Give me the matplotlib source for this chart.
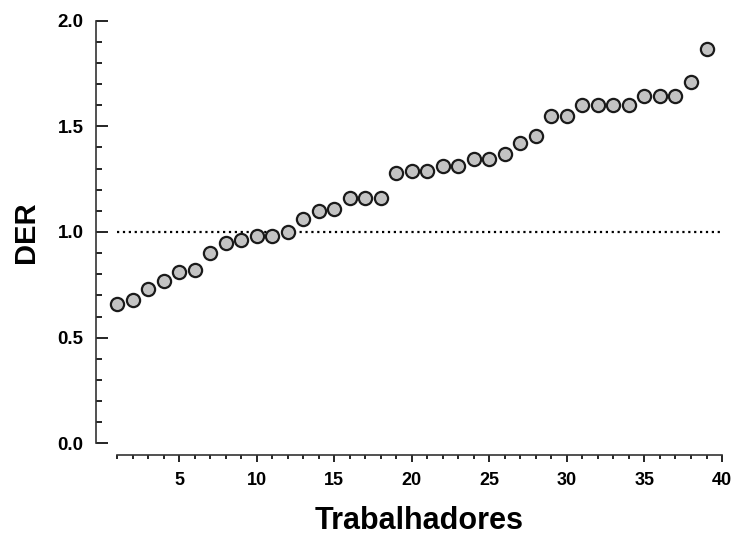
import matplotlib.pyplot as plt
from matplotlib.ticker import MultipleLocator

plt.rcParams['font.family'] = ['Liberation Sans', 'DejaVu Sans']

# trabalhadores (ordenados) e respectivos valores de DER
trabalhadores = list(range(1, 40))
der = [0.66, 0.68, 0.73, 0.77, 0.81, 0.82, 0.90, 0.95, 0.96, 0.98,
       0.98, 1.00, 1.06, 1.10, 1.11, 1.16, 1.16, 1.16, 1.28, 1.29,
       1.29, 1.31, 1.31, 1.345, 1.345, 1.37, 1.42, 1.455, 1.55, 1.55,
       1.60, 1.60, 1.60, 1.60, 1.645, 1.645, 1.645, 1.71, 1.865]
referencia = 1.0

fig = plt.figure(figsize=(7.36, 5.35), dpi=100)
ax = fig.add_axes([0.159, 0.1714, 0.822, 0.79])

ax.axhline(referencia, color='black', linestyle=':', linewidth=1.6, zorder=1)
ax.plot(trabalhadores, der, linestyle='none', marker='o', markersize=9.5,
        markerfacecolor='#c3c3c3', markeredgecolor='#1a1a1a',
        markeredgewidth=1.6, zorder=3, clip_on=False)

ax.set_xlim(1, 40)
ax.set_ylim(0, 2)

for s in ['top', 'right']:
    ax.spines[s].set_visible(False)
ax.spines['left'].set_position(('outward', 15))
ax.spines['bottom'].set_position(('outward', 8.6))
for s in ['left', 'bottom']:
    ax.spines[s].set_linewidth(1.2)
    ax.spines[s].set_color('#333333')

ax.xaxis.set_major_locator(MultipleLocator(5))
ax.xaxis.set_minor_locator(MultipleLocator(1))
ax.yaxis.set_major_locator(MultipleLocator(0.5))
ax.yaxis.set_minor_locator(MultipleLocator(0.1))

ax.tick_params(axis='y', which='major', direction='in', length=8.5, width=1.2,
               pad=9, labelsize=13.5)
ax.tick_params(axis='y', which='minor', direction='in', length=4.3, width=1.2)
ax.tick_params(axis='x', which='major', direction='out', length=5, width=1.2,
               pad=7, labelsize=13)
ax.tick_params(axis='x', which='minor', direction='out', length=3, width=1.2)

ax.set_xticks([5, 10, 15, 20, 25, 30, 35, 40])
ax.set_yticks([0.0, 0.5, 1.0, 1.5, 2.0])
ax.set_yticklabels(['0.0', '0.5', '1.0', '1.5', '2.0'])
for lab in ax.get_xticklabels() + ax.get_yticklabels():
    lab.set_fontweight('bold')

ax.set_xlabel('Trabalhadores', fontsize=22, fontweight='bold', labelpad=12)
ax.set_ylabel('DER', fontsize=21, fontweight='bold', labelpad=13)

fig.savefig('out.png', dpi=100)
